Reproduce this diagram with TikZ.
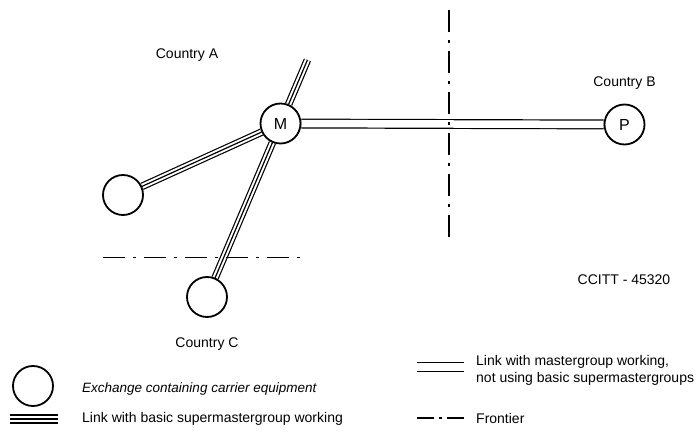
\documentclass[tikz,border=0pt]{standalone}
\usepackage{fontspec}
\setmainfont{Liberation Sans}
\usetikzlibrary{positioning, backgrounds}

\begin{document}
\begin{tikzpicture}[x=1pt, y=-1pt,
    exch/.style={circle, draw, fill=white, line width=1.8pt, minimum size=40pt, inner sep=0pt, font=\fontsize{16}{18}\selectfont},
    supermaster/.style={draw=black, line width=7.6pt, postaction={draw=white, line width=5.2pt}, postaction={draw=black, line width=1.2pt}},
    bigsupermaster/.style={draw=black, line width=10pt, postaction={draw=white, line width=6.6pt}, postaction={draw=black, line width=1.7pt}},
    mastergroup/.style={draw=black, line width=1.2pt, double=white, double distance=7.5pt},
    frontier/.style={draw=black, line width=1.2pt, dash pattern=on 22pt off 8pt on 3pt off 8pt},
    lbl/.style={font=\fontsize{14}{17}\selectfont, inner sep=0pt}]

    \useasboundingbox (0,0) rectangle (696,435);

    % exchanges
    \node[exch] (M) at (280.5,123.5) {M};
    \node[exch] (P) at (624.5,124.5) {P};
    \node[exch] (L) at (123,195) {};
    \node[exch] (C) at (207,297) {};
    \coordinate (top) at (307.4,60);

    % links
    \begin{scope}[on background layer]
        \draw[supermaster] (L) -- (M);
        \draw[supermaster] (C) -- (M);
        \draw[supermaster] (M) -- (top);
        \draw[mastergroup] (M) -- (P);
    \end{scope}

    % frontiers
    \coordinate (fv1) at (449,10);
    \coordinate (fv2) at (449,243);
    \coordinate (fh1) at (103,257.7);
    \coordinate (fh2) at (301,257.7);
    \draw[frontier] (fv1) -- (fv2);
    \draw[frontier] (fh1) -- (fh2);

    % countries
    \node[lbl] (cA) at (187,55) {Country A};
    \node[lbl] (cB) [above=14pt of P] {Country B};
    \node[lbl] (cC) [below=20pt of C] {Country C};
    \node[lbl] (ref) at (624,280) {CCITT - 45320};

    % legend
    \node[exch] (kx) at (33,386) {};
    \node[lbl, anchor=west, font=\fontsize{13.5}{16}\selectfont\itshape] (tx) at (82,389) {Exchange containing carrier equipment};
    \coordinate (ks1) at (10,419);
    \coordinate (ks2) at (58,419);
    \draw[bigsupermaster] (ks1) -- (ks2);
    \node[lbl, anchor=west] (ts) at (82,419) {Link with basic supermastergroup working};
    \coordinate (km1) at (417,367);
    \coordinate (km2) at (464,367);
    \draw[mastergroup] (km1) -- (km2);
    \node[lbl, anchor=west, align=left] (tm) at (476,370.5) {Link with mastergroup working,\\not using basic supermastergroups};
    \coordinate (kf1) at (417,418);
    \coordinate (kf2) at (464,418);
    \draw[frontier, dash pattern=on 17pt off 5pt on 3pt off 5pt] (kf1) -- (kf2);
    \node[lbl, anchor=west] (tf) at (476,418) {Frontier};

\end{tikzpicture}
\end{document}
